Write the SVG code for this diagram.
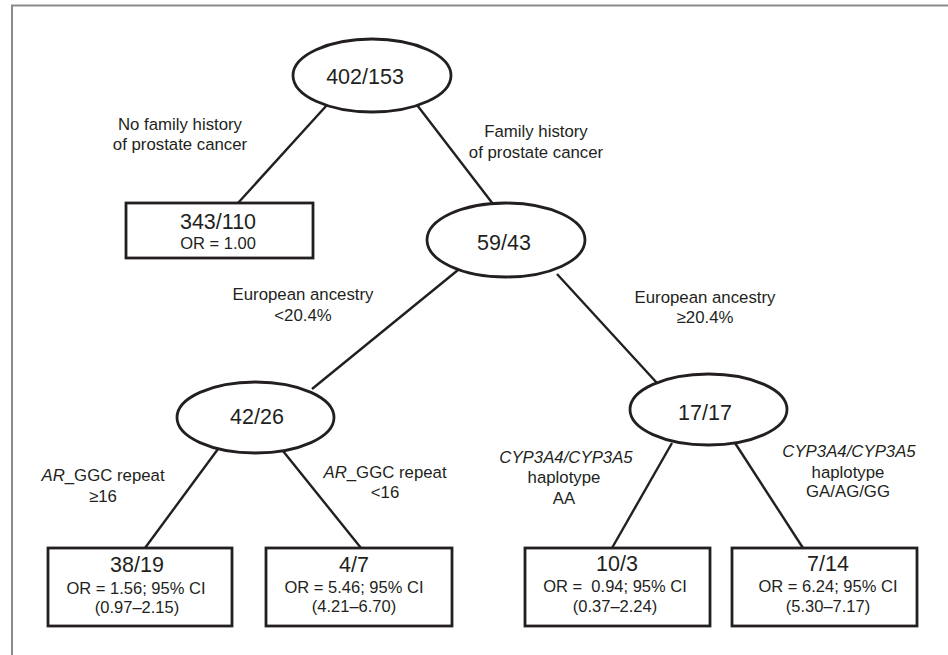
<svg xmlns="http://www.w3.org/2000/svg" width="948" height="655" viewBox="0 0 948 655">
<style>
.frame{stroke:#8a8a8c;stroke-width:2;fill:none}
.node{fill:#fff;stroke:#231f20;stroke-width:2.8}
.edge{stroke:#231f20;stroke-width:2.4;fill:none}
text{font-family:"Liberation Sans",Arial,sans-serif;fill:#231f20;text-anchor:middle}
.big{font-size:21.5px}
.sm{font-size:16.5px}
.lbl{font-size:16.8px}
.it{font-style:italic}
</style>
<rect width="948" height="655" fill="#fff"/>
<g id="frame">
<line class="frame" x1="11" y1="5.5" x2="948" y2="5.5"/>
<line class="frame" x1="12" y1="5" x2="12" y2="655"/>
</g>
<g id="connectors">
<line class="edge" x1="327" y1="105" x2="238" y2="203"/>
<line class="edge" x1="417" y1="105" x2="493" y2="204"/>
<line class="edge" x1="458" y1="270" x2="312" y2="389"/>
<line class="edge" x1="557" y1="274" x2="657" y2="383"/>
<line class="edge" x1="218" y1="449" x2="145" y2="548"/>
<line class="edge" x1="283" y1="451" x2="361" y2="548"/>
<line class="edge" x1="672" y1="443" x2="612" y2="548"/>
<line class="edge" x1="735" y1="443" x2="803" y2="548"/>
</g>
<g id="labels">
<text class="lbl" x="180" y="130">No family history</text>
<text class="lbl" x="180" y="150">of prostate cancer</text>
<text class="lbl" x="536" y="137">Family history</text>
<text class="lbl" x="536" y="158">of prostate cancer</text>
<text class="lbl" x="303" y="300">European ancestry</text>
<text class="lbl" x="303" y="321">&lt;20.4%</text>
<text class="lbl" x="705" y="303">European ancestry</text>
<text class="lbl" x="705" y="323">≥20.4%</text>
<text class="lbl" x="103" y="481"><tspan class="it">AR</tspan>_GGC repeat</text>
<text class="lbl" x="103" y="502">≥16</text>
<text class="lbl" x="385" y="478"><tspan class="it">AR</tspan>_GGC repeat</text>
<text class="lbl" x="385" y="498">&lt;16</text>
<text class="lbl it" x="566" y="463">CYP3A4/CYP3A5</text>
<text class="lbl" x="564" y="483">haplotype</text>
<text class="lbl" x="564" y="504">AA</text>
<text class="lbl it" x="849" y="457">CYP3A4/CYP3A5</text>
<text class="lbl" x="848" y="478">haplotype</text>
<text class="lbl" x="848" y="497">GA/AG/GG</text>
</g>
<g id="n402">
<ellipse class="node" cx="372" cy="75.5" rx="79" ry="36.5"/>
<text class="big" x="365" y="84">402/153</text>
</g>
<g id="n343">
<rect class="node" x="126" y="203" width="187" height="55"/>
<text class="big" x="218" y="229">343/110</text>
<text class="sm" x="218" y="249">OR = 1.00</text>
</g>
<g id="n59">
<ellipse class="node" cx="506" cy="240" rx="79" ry="37"/>
<text class="big" x="504" y="250">59/43</text>
</g>
<g id="n42">
<ellipse class="node" cx="255.5" cy="417.5" rx="78.5" ry="35.5"/>
<text class="big" x="257" y="424">42/26</text>
</g>
<g id="n17">
<ellipse class="node" cx="708.5" cy="409.5" rx="78.5" ry="35.5"/>
<text class="big" x="705" y="420">17/17</text>
</g>
<g id="n38">
<rect class="node" x="48" y="548" width="184" height="78"/>
<text class="big" x="137" y="572">38/19</text>
<text class="sm" x="136" y="594">OR = 1.56; 95% CI</text>
<text class="sm" x="137" y="613">(0.97–2.15)</text>
</g>
<g id="n4">
<rect class="node" x="266" y="548" width="186" height="78"/>
<text class="big" x="354" y="572">4/7</text>
<text class="sm" x="354" y="593">OR = 5.46; 95% CI</text>
<text class="sm" x="354" y="612">(4.21–6.70)</text>
</g>
<g id="n10">
<rect class="node" x="525" y="548" width="185" height="78"/>
<text class="big" x="617" y="571">10/3</text>
<text class="sm" x="615" y="592" style="white-space:pre">OR =  0.94; 95% CI</text>
<text class="sm" x="615" y="612">(0.37–2.24)</text>
</g>
<g id="n7">
<rect class="node" x="732" y="548" width="185" height="78"/>
<text class="big" x="828" y="571">7/14</text>
<text class="sm" x="828" y="592">OR = 6.24; 95% CI</text>
<text class="sm" x="828" y="612">(5.30–7.17)</text>
</g>
</svg>
